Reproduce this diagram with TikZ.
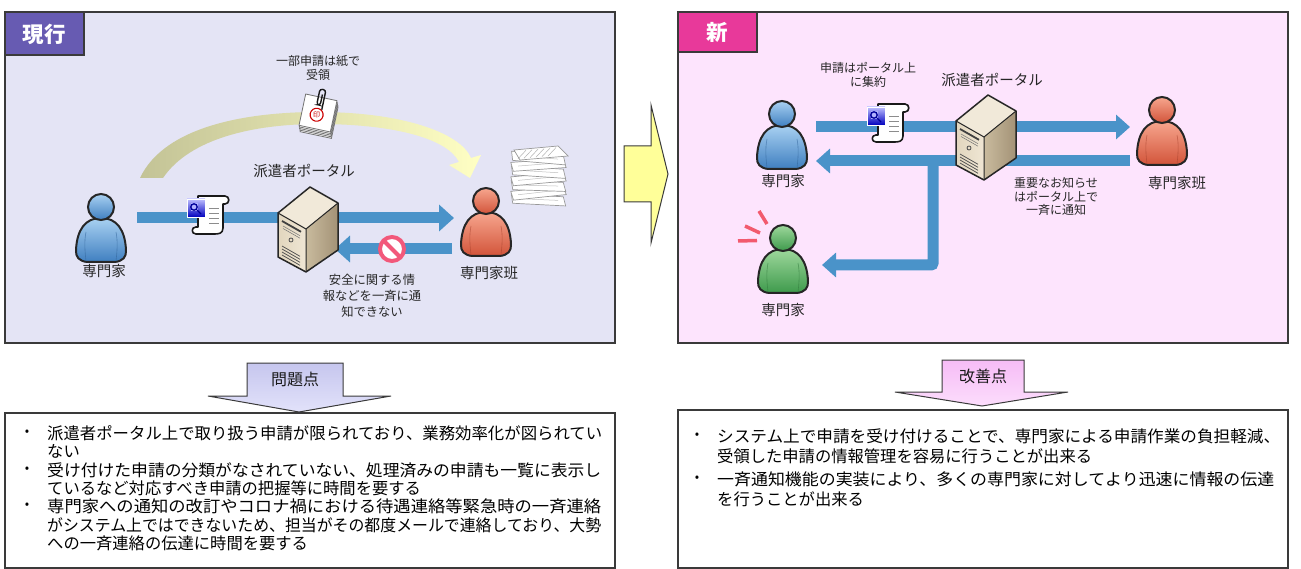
\documentclass[tikz,border=0pt]{standalone}
\usepackage{fontspec}
\usepackage{graphicx}
\setmainfont{Noto Sans CJK JP}
\usetikzlibrary{arrows.meta,calc}

% a full list line set to a given width
\newcommand\fitline[2]{\resizebox{#1}{\height}{#2}}

\definecolor{panelA}{HTML}{E4E4F5}
\definecolor{panelB}{HTML}{FDE4FD}
\definecolor{tabA}{HTML}{675BB2}
\definecolor{tabB}{HTML}{E8399A}
\definecolor{flow}{HTML}{4A93C9}
\definecolor{frame}{HTML}{3A3A3A}
\definecolor{bigyellow}{HTML}{FFFF99}
\definecolor{arcL}{HTML}{C3C396}
\definecolor{arcR}{HTML}{FFFFC4}
\definecolor{banred}{HTML}{F2587A}
\definecolor{alertred}{HTML}{F25A6E}
\definecolor{srvTop}{HTML}{F1E9D9}
\definecolor{srvFrontL}{HTML}{E2D6BE}
\definecolor{srvFrontR}{HTML}{EFE6D4}
\definecolor{srvSideL}{HTML}{C9BB9E}
\definecolor{srvSideR}{HTML}{A39276}
\definecolor{blueHi}{HTML}{A9D1F2}
\definecolor{blueLo}{HTML}{3F7FC0}
\definecolor{redHi}{HTML}{F7A68E}
\definecolor{redLo}{HTML}{D2543A}
\definecolor{greenHi}{HTML}{9ED89C}
\definecolor{greenLo}{HTML}{3E9A4C}
\definecolor{probA}{HTML}{C6C6EE}
\definecolor{probB}{HTML}{E2E2FA}
\definecolor{goodA}{HTML}{F6BCF6}
\definecolor{goodB}{HTML}{FCDDFC}

\tikzset{
  % person icon: #1 light tone, #2 dark tone
  pics/person/.style 2 args={code={
    \draw[line width=2pt, draw=black!85, top color=#1, bottom color=#2, line join=round]
      (0,-12) .. controls (16,-12) and (24,0) .. (25,20)
      .. controls (25.5,27) and (22,31) .. (14,32) -- (-14,32)
      .. controls (-22,31) and (-25.5,27) .. (-25,20)
      .. controls (-24,0) and (-16,-12) .. (0,-12) -- cycle;
    \draw[#2!80!black, line width=.6pt, opacity=.6] (-15,2) .. controls (-17,12) and (-16,22) .. (-15,31);
    \draw[#2!80!black, line width=.6pt, opacity=.6] (15,2) .. controls (17,12) and (16,22) .. (15,31);
    \draw[line width=2pt, draw=black!85, top color=#1, bottom color=#2] (0,-23) circle[radius=13];
  }},
  % tower server
  pics/server/.style={code={
    \fill[srvTop] (-30,-17) -- (2,-43) -- (30,-27) -- (-2,-1) -- cycle;
    \fill[left color=srvFrontL, right color=srvFrontR] (-30,-17) -- (-2,-1) -- (-2,42) -- (-30,27) -- cycle;
    \fill[left color=srvSideL, right color=srvSideR] (-2,-1) -- (30,-27) -- (30,20) -- (-2,42) -- cycle;
    \draw[line width=1.8pt, black!75] (-26,-9) -- (-7,1.8);
    \draw[line width=.5pt, black!55] (-25,-4) -- (-8,5.7) (-25,-1.5) -- (-8,8.2);
    \draw[line width=.8pt, black!70] (-17,10) circle[radius=2];
    \foreach \v in {16,19,22,25}
      \draw[line width=.7pt, black!70] (-26,\v) -- (-8,\v+10.3);
    \draw[black!85, line width=1.5pt, line join=round]
      (-30,-17) -- (2,-43) -- (30,-27) -- (30,20) -- (-2,42) -- (-30,27) -- cycle;
    \draw[black!85, line width=1pt, line join=round] (-30,-17) -- (-2,-1) -- (30,-27) (-2,-1) -- (-2,42);
  }},
  % electronic form sheet
  pics/wdoc/.style={code={
    \filldraw[fill=white, draw=black!90, line width=1.6pt, line join=round]
      (-10,-18) -- (17,-18) .. controls (22,-18) and (22,-10) .. (17,-10) -- (15,-10)
      -- (15,14) .. controls (15,20) and (10,20) .. (6,20) -- (-12,20)
      .. controls (-17,20) and (-17,13) .. (-12,13) -- (-10,13) -- cycle;
    \foreach \v in {-5,0,5,10}
      \draw[black!45, line width=1pt] (1,\v) -- (11,\v);
    \shade[top color=blue!25, bottom color=blue!75!black] (-21,-15) rectangle (-3,3);
    \draw[white, line width=.8pt] (-21,-15) rectangle (-3,3);
    \fill[white!70!blue] (-17,-11) rectangle (-10,-3);
    \draw[blue!60!black, line width=1.3pt] (-14,-7) circle[radius=3.2];
    \draw[blue!60!black, line width=1.3pt] (-11,-4) -- (-7,0);
  }},
  % clipped paper form with seal
  pics/clipdoc/.style={code={
    \begin{scope}[rotate=-12]
      \foreach \o in {6,4.5,3,1.5,0}
        \filldraw[fill=white, draw=black!55, line width=.8pt] (-16+\o*0.4,-16+\o) rectangle (16+\o*0.4,16+\o);
      \draw[red!80!black, line width=1.1pt] (-1,2) circle[radius=6.5];
      \node[inner sep=0, text=red!80!black, font=\fontsize{7}{7}\selectfont] at (-1,2) {印};
      \draw[black!90, line width=1.4pt, rounded corners=2.5pt]
        (3,-4) -- (3,-24) -- (-3,-24) -- (-3,-8) -- (0.5,-8) -- (0.5,-19);
    \end{scope}
  }},
  % pile of paper
  pics/pile/.style={code={
    \foreach \dy/\rot in {24/-4,17/5,10/-3,3/4,-4/-5,-11/3,-18/-6}{
      \begin{scope}[rotate around={\rot:(0,\dy)}]
        \filldraw[fill=white, draw=black!40, line width=.7pt]
          (-27,\dy-4) -- (25,\dy-5) -- (28,\dy+4) -- (-25,\dy+5) -- cycle;
        \draw[black!25, line width=.5pt] (-20,\dy) -- (20,\dy-1);
      \end{scope}}
    \filldraw[fill=white, draw=black!40, line width=.7pt]
      (-24,-26) -- (20,-30) -- (30,-20) -- (-18,-16) -- cycle;
    \foreach \s in {-14,-8,...,16}
      \draw[black!30, line width=.5pt] (\s-6,-18.5-\s*0.09) -- (\s+2,-27-\s*0.09);
  }},
  panel/.style={draw=frame, line width=1.3pt},
  tabtext/.style={text=white, font=\fontsize{21.5}{24}\selectfont\bfseries, inner sep=0},
  fig/.style={minimum width=52pt, minimum height=68pt, inner sep=0, outer sep=0},
  srvbox/.style={minimum width=60pt, minimum height=86pt, inner sep=0, outer sep=0},
  docbox/.style={minimum width=42pt, minimum height=38pt, inner sep=0, outer sep=0},
  who/.style={font=\fontsize{14.5}{16}\selectfont, text=black!85, inner sep=0},
  note/.style={font=\fontsize{12}{14}\selectfont, text=black!85, align=center, inner sep=0},
  band/.style={draw=flow, line width=11pt, -{Triangle[width=26pt,length=15pt]}},
  bandB/.style={draw=flow, line width=11pt, -{Triangle[width=24pt,length=14pt]}},
  item/.style={font=\fontsize{16.3}{18}\selectfont, anchor=west, inner sep=0, text=black},
  dotmark/.style={font=\fontsize{13}{16}\selectfont, inner sep=0, text=black},
  listbox/.style={draw=frame, line width=1.1pt, fill=white},
  headlbl/.style={font=\fontsize{16}{18}\selectfont, inner sep=0, text=black!90},
}

\begin{document}
\begin{tikzpicture}[x=1pt,y=-1pt]
\useasboundingbox (0,0) rectangle (1301,569);
\fill[white] (0,0) rectangle (1301,569);

% ---------------- current system ----------------
\filldraw[panel, fill=panelA] (5,12) rectangle (615,343);
\filldraw[panel, fill=tabA] (5,12) rectangle (84,55);
\node[tabtext] (tA) at (44.5,34) {現行};

% paper route (curved band)
\shade[left color=arcL, right color=arcR]
  (140,178) .. controls (165,125) and (250,112) .. (318,112)
  .. controls (400,112) and (460,132) .. (471,158)
  -- (481,155) -- (470,178) -- (449,165) -- (459,162)
  .. controls (448,139) and (395,124) .. (318,124)
  .. controls (255,124) and (190,138) .. (163,178) -- cycle;

\node[note] (paperNote) at (318,68) {一部申請は紙で\\受領};
\pic at (318,113) {clipdoc};
\pic at (538,176) {pile};

\node[fig] (expA) at (101,230) {};
\node[fig] (teamA) at (486,224) {};
\node[srvbox] (srvA) at (308,230) {};
\node[docbox] (docA) at (208,214) {};

\draw[band] ([shift={(10,-12)}]expA.east) -- ([shift={(-6,-6)}]teamA.west);
\draw[band] ([shift={(-8,25)}]teamA.west) -- ([shift={(-3,19)}]srvA.east);

\pic at (expA) {person={blueHi}{blueLo}};
\pic at (teamA) {person={redHi}{redLo}};
\pic at (srvA) {server};
\pic at (docA) {wdoc};

\node[circle, draw=banred, fill=white, line width=4pt, minimum size=24pt, inner sep=0] (ban) at (392,249) {};
\draw[banred, line width=4pt] ($(ban.center)+(-8.5,-8.5)$) -- ($(ban.center)+(8.5,8.5)$);

\node[who] (expAname) at (104,271) {専門家};
\node[who] (teamAname) at (489,273) {専門家班};
\node[who] (srvAname) at (304,171) {派遣者ポータル};
\node[note, font=\fontsize{12.3}{16}\selectfont] (banNote) at (372,296) {安全に関する情\\報などを一斉に通\\知できない};

% ---------------- transition ----------------
\filldraw[fill=bigyellow, draw=frame, line width=1pt, line join=miter]
  (624,146) -- (651,146) -- (651,105) -- (668,174) -- (651,243) -- (651,202) -- (624,202) -- cycle;

% ---------------- new system ----------------
\filldraw[panel, fill=panelB] (678,12) rectangle (1288,343);
\filldraw[panel, fill=tabB] (678,12) rectangle (757,52);
\node[tabtext] (tB) at (717.5,32) {新};

\node[fig] (expB) at (782,137) {};
\node[fig] (expC) at (783,261) {};
\node[fig] (teamB) at (1162,133) {};
\node[srvbox] (srvB) at (986,138) {};
\node[docbox] (docB) at (888,122) {};

\draw[bandB] ([shift={(8,-10)}]expB.east) -- ([shift={(-6,-6)}]teamB.west);
\draw[bandB] ([shift={(-6,28)}]teamB.west) -- ([shift={(8,24)}]expB.east);
\coordinate (fork) at (933,161);
\draw[bandB, rounded corners=2pt] (fork) |- ([shift={(13,4)}]expC.east);

\pic at (expB) {person={blueHi}{blueLo}};
\pic at (expC) {person={greenHi}{greenLo}};
\pic at (teamB) {person={redHi}{redLo}};
\begin{scope}[shift={(srvB)}, scale=.95]
  \pic {server};
\end{scope}
\pic at (docB) {wdoc};

\draw[alertred, line width=3.5pt] (738,241) -- (757,240.5);
\draw[alertred, line width=3.5pt] (745,226) -- (760,233);
\draw[alertred, line width=3.5pt] (759,211) -- (767,224);

\node[note] (gatherNote) at (868,75) {申請はポータル上\\に集約};
\node[who] (srvBname) at (992,80) {派遣者ポータル};
\node[who] (expBname) at (783,181) {専門家};
\node[who] (expCname) at (783,310) {専門家};
\node[who] (teamBname) at (1177,183) {専門家班};
\node[note, font=\fontsize{12}{13.5}\selectfont] (pushNote) at (1056,196.5) {重要なお知らせ\\はポータル上で\\一斉に通知};

% ---------------- problems ----------------
\shade[top color=probA, bottom color=probB]
  (247,363) -- (343,363) -- (343,396) -- (391,396) -- (299,412) -- (208,396) -- (247,396) -- cycle;
\draw[frame, line width=1pt]
  (247,363) -- (343,363) -- (343,396) -- (391,396) -- (299,412) -- (208,396) -- (247,396) -- cycle;
\node[headlbl] (probHead) at (295,379) {問題点};

\filldraw[listbox] (5,413) rectangle (615,568);
\node[dotmark] (pd1) at (27,433) {•};
\node[dotmark] (pd2) at (27,470) {•};
\node[dotmark] (pd3) at (27,506) {•};
\node[item] (p1) at (47,433) {\fitline{555pt}{派遣者ポータル上で取り扱う申請が限られており、業務効率化が図られてい}};
\node[item] (p2) at (47,451) {ない};
\node[item] (p3) at (47,470) {\fitline{554pt}{受け付けた申請の分類がなされていない、処理済みの申請も一覧に表示し}};
\node[item] (p4) at (47,488) {ているなど対応すべき申請の把握等に時間を要する};
\node[item] (p5) at (47,506) {\fitline{554pt}{専門家への通知の改訂やコロナ禍における待遇連絡等緊急時の一斉連絡}};
\node[item] (p6) at (47,525) {\fitline{554pt}{がシステム上ではできないため、担当がその都度メールで連絡しており、大勢}};
\node[item] (p7) at (47,543) {への一斉連絡の伝達に時間を要する};

% ---------------- improvements ----------------
\shade[top color=goodA, bottom color=goodB]
  (942,360) -- (1024,360) -- (1024,392) -- (1068,392) -- (982,406) -- (895,392) -- (942,392) -- cycle;
\draw[frame, line width=1pt]
  (942,360) -- (1024,360) -- (1024,392) -- (1068,392) -- (982,406) -- (895,392) -- (942,392) -- cycle;
\node[headlbl] (goodHead) at (983,376) {改善点};

\filldraw[listbox] (678,410) rectangle (1288,568);
\node[dotmark] (gd1) at (697,436) {•};
\node[dotmark] (gd2) at (697,479) {•};
\node[item] (g1) at (717,436) {\fitline{563pt}{システム上で申請を受け付けることで、専門家による申請作業の負担軽減、}};
\node[item] (g2) at (717,456) {受領した申請の情報管理を容易に行うことが出来る};
\node[item] (g3) at (717,479) {\fitline{557pt}{一斉通知機能の実装により、多くの専門家に対してより迅速に情報の伝達}};
\node[item] (g4) at (717,499) {を行うことが出来る};
\end{tikzpicture}
\end{document}
